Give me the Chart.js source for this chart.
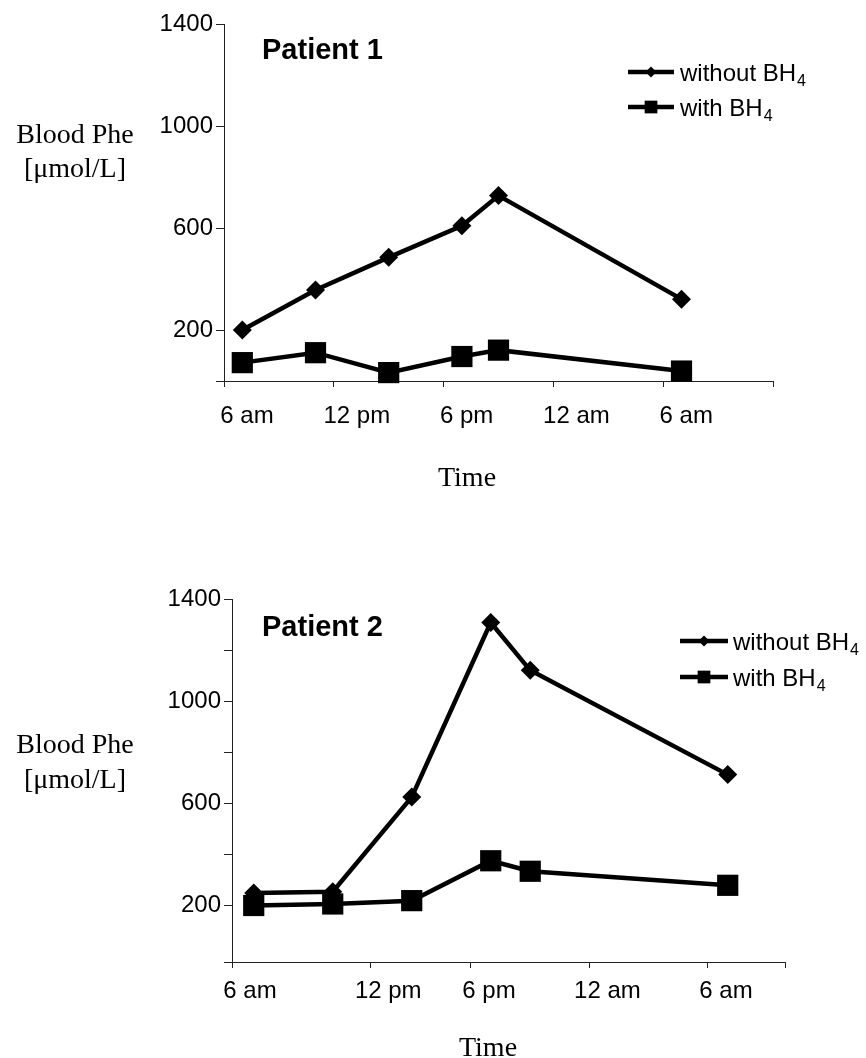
<!DOCTYPE html>
<html><head><meta charset="utf-8">
<script src="https://cdn.jsdelivr.net/npm/chart.js@4.4.1/dist/chart.umd.min.js"></script>
<style>
html,body{margin:0;padding:0;background:#fff;}
#wrap{position:relative;width:866px;height:1058px;overflow:hidden;}
canvas{position:absolute;left:0;}
</style></head><body>
<div id="wrap">
<canvas id="c1" width="866" height="529" style="top:0"></canvas>
<canvas id="c2" width="866" height="529" style="top:529px"></canvas>
</div>
<script>
// ---------- data ----------
const seriesNames = ['without BH₄', 'with BH₄'];
const yTitle = ['Blood Phe', '[μmol/L]'];
const xTitle = 'Time';
const xTickLabels = ['6 am', '12 pm', '6 pm', '12 am', '6 am'];
const yTickLabels = [200, 600, 1000, 1400];

const p1Title = 'Patient 1';
const p1Hours = [7, 11, 15, 19, 21, 31];
const p1Without = [200, 357, 485, 609, 727, 321];
const p1With = [72, 111, 33, 96, 121, 39];

const p2Title = 'Patient 2';
const p2Hours = [7, 11, 15, 19, 21, 31];
const p2Without = [250, 255, 625, 1308, 1121, 713];
const p2With = [201, 207, 220, 376, 335, 280];

// ---------- drawing ----------
const SANS = '"Liberation Sans", Arial, Helvetica, sans-serif';
const SERIF = '"Liberation Serif", "Times New Roman", serif';
const INK = '#000';
const AXIS = '#222';

function marker(ctx, style, x, y, r) {
  ctx.beginPath();
  if (style === 'rectRot') {
    ctx.moveTo(x - r, y); ctx.lineTo(x, y - r); ctx.lineTo(x + r, y); ctx.lineTo(x, y + r);
  } else {
    const s = r * Math.SQRT1_2;
    ctx.rect(x - s, y - s, 2 * s, 2 * s);
  }
  ctx.closePath();
  ctx.fill();
}

function textPlugin(o) {
  return {
    id: 'texts',
    afterDraw(chart) {
      const ctx = chart.ctx;
      ctx.save();
      ctx.fillStyle = INK;
      ctx.textBaseline = 'alphabetic';
      // panel title
      ctx.font = 'bold 29px ' + SANS;
      ctx.textAlign = 'left';
      ctx.fillText(o.title, o.titleX, o.titleY);
      // y title (horizontal, two lines)
      ctx.font = '28px ' + SERIF;
      ctx.textAlign = 'center';
      ctx.fillText(yTitle[0], o.yTitleX, o.yTitleY1);
      ctx.fillText(yTitle[1], o.yTitleX, o.yTitleY2);
      // x title
      ctx.fillText(xTitle, o.timeX, o.timeY);
      // legend
      chart.data.datasets.forEach((ds, i) => {
        const y = o.legY + i * o.legGap;
        ctx.strokeStyle = INK;
        ctx.lineWidth = 4.5;
        ctx.beginPath();
        ctx.moveTo(o.legX, y); ctx.lineTo(o.legX + o.legLen, y);
        ctx.stroke();
        marker(ctx, ds.pointStyle, o.legX + o.legLen / 2, y, o.legR[i]);
        const m = ds.label.match(/^(.*?)([₀-₉]+)$/);
        const main = m ? m[1] : ds.label;
        const sub = m ? m[2].split('').map(c => String.fromCharCode(c.charCodeAt(0) - 0x2080 + 48)).join('') : '';
        ctx.textAlign = 'left';
        ctx.font = '24px ' + SANS;
        ctx.fillText(main, o.legTextX, y + 9);
        if (sub) {
          const w = ctx.measureText(main).width;
          ctx.font = '16px ' + SANS;
          ctx.fillText(sub, o.legTextX + w + 1, y + 14);
        }
      });
      ctx.restore();
    }
  };
}

function makeChart(id, hours, without, withBH, L) {
  const ds = (label, vals, style, r) => ({
    label,
    data: hours.map((h, i) => ({ x: h, y: vals[i] })),
    borderColor: INK,
    backgroundColor: INK,
    borderWidth: 4.5,
    tension: 0,
    pointStyle: style,
    pointRadius: r,
    pointHoverRadius: r,
    pointBackgroundColor: INK,
    pointBorderColor: INK,
    pointBorderWidth: 0,
    clip: false
  });
  return new Chart(document.getElementById(id), {
    type: 'line',
    data: {
      datasets: [
        ds(seriesNames[0], without, 'rectRot', 9.5),
        ds(seriesNames[1], withBH, 'rect', 15)
      ]
    },
    options: {
      responsive: false,
      animation: false,
      events: [],
      layout: { padding: { top: L.top, right: L.right, bottom: 0, left: 0 } },
      plugins: { legend: { display: false }, tooltip: { enabled: false }, title: { display: false } },
      scales: {
        x: {
          type: 'linear',
          min: L.xMin, max: L.xMax,
          afterBuildTicks: s => { s.ticks = L.xTicks.map(v => ({ value: v })); },
          afterFit: s => { s.height = L.xHeight; },
          ticks: {
            autoSkip: false, maxRotation: 0, minRotation: 0,
            labelOffset: L.xLabelOffset, padding: L.xPad,
            color: INK, font: { family: SANS, size: 24 },
            callback: (v, i) => (i < xTickLabels.length ? xTickLabels[i] : '')
          },
          grid: { drawOnChartArea: false, drawTicks: true, tickLength: 6, color: AXIS, lineWidth: 1 },
          border: { display: true, color: AXIS, width: 1 }
        },
        y: {
          type: 'linear',
          min: L.yMin, max: 1400,
          afterBuildTicks: s => { s.ticks = L.yTicks.map(v => ({ value: v })); },
          afterFit: s => { s.width = L.left; },
          ticks: {
            padding: 3,
            color: INK, font: { family: SANS, size: 24 },
            callback: v => (yTickLabels.includes(v) ? String(v) : '')
          },
          grid: { drawOnChartArea: false, drawTicks: true, tickLength: 8, color: AXIS, lineWidth: 1 },
          border: { display: true, color: AXIS, width: 1 }
        }
      }
    },
    plugins: [textPlugin(L.text)]
  });
}

makeChart('c1', p1Hours, p1Without, p1With, {
  top: 24, right: 93, left: 224, xHeight: 148,
  xMin: 6, xMax: 36, xTicks: [6, 12, 18, 24, 30, 36],
  xLabelOffset: 23, xPad: 15,
  yMin: 0, yTicks: [0, 200, 600, 1000, 1400],
  text: {
    title: p1Title, titleX: 262, titleY: 59,
    yTitleX: 75, yTitleY1: 143, yTitleY2: 177,
    timeX: 467, timeY: 486,
    legX: 628, legLen: 46, legY: 72, legGap: 35, legTextX: 680, legR: [5.5, 9]
  }
});

makeChart('c2', p2Hours, p2Without, p2With, {
  top: 70, right: 81, left: 232, xHeight: 96,
  xMin: 5.9, xMax: 33.9, xTicks: [5.9, 12.9, 18, 24, 30, 33.9],
  xLabelOffset: 18, xPad: 9,
  yMin: -20, yTicks: [-20, 200, 400, 600, 800, 1000, 1200, 1400],
  text: {
    title: p2Title, titleX: 262, titleY: 107,
    yTitleX: 75, yTitleY1: 224, yTitleY2: 259,
    timeX: 488, timeY: 527,
    legX: 680, legLen: 48, legY: 112, legGap: 36, legTextX: 733, legR: [5.5, 9]
  }
});
</script>
</body></html>
